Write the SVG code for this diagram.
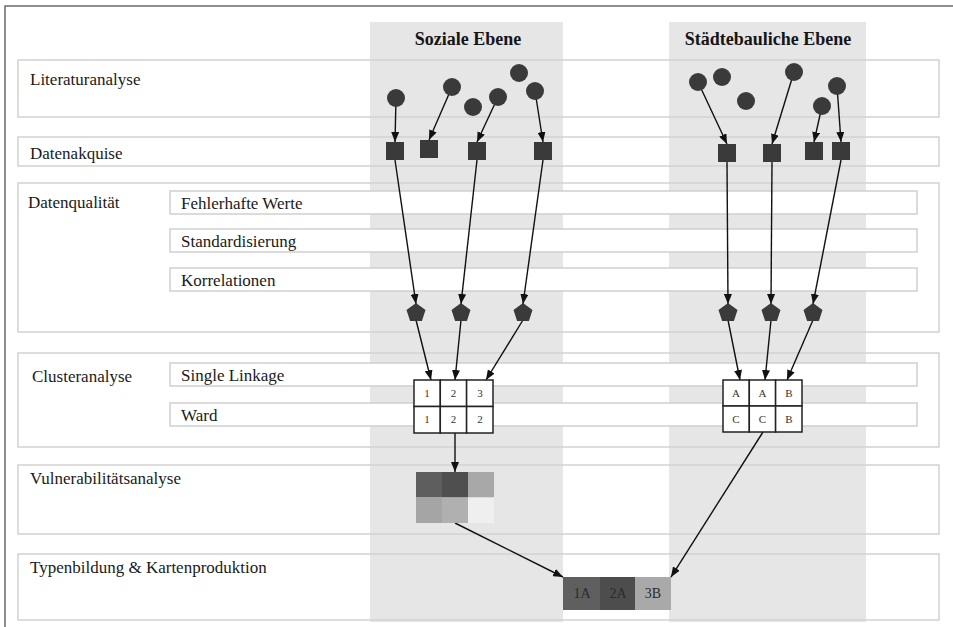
<svg xmlns="http://www.w3.org/2000/svg" width="953" height="627" viewBox="0 0 953 627">
  <style>
    .col { fill: #e6e6e6; }
    .row { fill: none; stroke: #d2d2d2; stroke-width: 1.5; }
    .sub { fill: #ffffff; stroke: #cfcfcf; stroke-width: 1.5; }
    .lbl { font-family: "Liberation Serif", "Times New Roman", serif; font-size: 17px; fill: #1a1a1a; }
    .hdr { font-family: "Liberation Serif", "Times New Roman", serif; font-size: 18px; font-weight: bold; fill: #151515; text-anchor: middle; }
    .node { fill: #3a3a3a; }
    .cell { fill: #ffffff; stroke: #222222; stroke-width: 1.5; }
    .ct { font-family: "Liberation Serif", "Times New Roman", serif; font-size: 11px; fill: #333333; text-anchor: middle; }
    .bt { font-family: "Liberation Serif", "Times New Roman", serif; font-size: 14px; fill: #2a2a2a; text-anchor: middle; }
    .edge { fill: none; stroke: #111111; stroke-width: 1.4; marker-end: url(#arrow); }
  </style>
  <defs>
    <marker id="arrow" markerUnits="userSpaceOnUse" markerWidth="10" markerHeight="8" refX="10" refY="4" orient="auto">
      <path d="M0,0 L10,4 L0,8 z" fill="#111111"/>
    </marker>
    <polygon id="pent" points="0,-10 9.5,-3.1 5.9,8.1 -5.9,8.1 -9.5,-3.1"/>
  </defs>

  <rect width="953" height="627" fill="#ffffff"/>
  <!-- outer frame -->
  <path d="M5,627 L5,6 L953,6" fill="none" stroke="#6a6a6a" stroke-width="1.5"/>

  <!-- column backgrounds -->
  <rect class="col" x="370" y="22" width="193" height="600"/>
  <rect class="col" x="669" y="22" width="197" height="600"/>
  <text class="hdr" x="468" y="45">Soziale Ebene</text>
  <text class="hdr" x="768" y="45">Städtebauliche Ebene</text>

  <!-- process rows -->
  <g id="row-literatur">
    <rect class="row" x="18" y="60" width="921" height="57"/>
    <text class="lbl" x="30" y="85">Literaturanalyse</text>
  </g>
  <g id="row-datenakquise">
    <rect class="row" x="18" y="137" width="921" height="29"/>
    <text class="lbl" x="30" y="159">Datenakquise</text>
  </g>
  <g id="row-datenqualitaet">
    <rect class="row" x="18" y="183" width="921" height="149"/>
    <text class="lbl" x="28" y="208">Datenqualität</text>
    <rect class="sub" x="170" y="191" width="747" height="23"/>
    <text class="lbl" x="181" y="209">Fehlerhafte  Werte</text>
    <rect class="sub" x="170" y="229" width="747" height="23"/>
    <text class="lbl" x="181" y="247">Standardisierung</text>
    <rect class="sub" x="170" y="268" width="747" height="23"/>
    <text class="lbl" x="181" y="286">Korrelationen</text>
  </g>
  <g id="row-cluster">
    <rect class="row" x="18" y="353" width="921" height="94"/>
    <text class="lbl" x="32" y="382">Clusteranalyse</text>
    <rect class="sub" x="170" y="363" width="747" height="23"/>
    <text class="lbl" x="181" y="381">Single Linkage</text>
    <rect class="sub" x="170" y="403" width="747" height="23"/>
    <text class="lbl" x="181" y="421">Ward</text>
  </g>
  <g id="row-vulnerabilitaet">
    <rect class="row" x="18" y="465" width="921" height="69"/>
    <text class="lbl" x="30" y="484">Vulnerabilitätsanalyse</text>
  </g>
  <g id="row-typen">
    <rect class="row" x="18" y="554" width="921" height="66"/>
    <text class="lbl" x="30" y="573">Typenbildung  &amp; Kartenproduktion</text>
  </g>

  <!-- connectors -->
  <g id="connectors">
    <line class="edge" x1="396" y1="98" x2="395" y2="142"/>
    <line class="edge" x1="452" y1="87" x2="429" y2="140"/>
    <line class="edge" x1="498" y1="97" x2="477" y2="142"/>
    <line class="edge" x1="535" y1="91" x2="543" y2="142"/>
    <line class="edge" x1="698" y1="82" x2="727" y2="144"/>
    <line class="edge" x1="794" y1="72" x2="772" y2="144"/>
    <line class="edge" x1="822" y1="106" x2="814" y2="142"/>
    <line class="edge" x1="837" y1="86" x2="841" y2="142"/>

    <line class="edge" x1="395" y1="160" x2="416" y2="304"/>
    <line class="edge" x1="477" y1="160" x2="461" y2="304"/>
    <line class="edge" x1="543" y1="160" x2="523" y2="304"/>
    <line class="edge" x1="727" y1="162" x2="728" y2="304"/>
    <line class="edge" x1="772" y1="162" x2="771" y2="304"/>
    <line class="edge" x1="841" y1="160" x2="813" y2="304"/>

    <line class="edge" x1="416" y1="320" x2="431" y2="380"/>
    <line class="edge" x1="461" y1="320" x2="455" y2="380"/>
    <line class="edge" x1="523" y1="320" x2="486" y2="380"/>
    <line class="edge" x1="728" y1="320" x2="740" y2="380"/>
    <line class="edge" x1="771" y1="320" x2="765" y2="380"/>
    <line class="edge" x1="813" y1="320" x2="787" y2="380"/>

    <line class="edge" x1="455" y1="433" x2="455" y2="472"/>
    <line class="edge" x1="455" y1="523" x2="563" y2="577"/>
    <line class="edge" x1="763" y1="432" x2="671" y2="577"/>
  </g>

  <!-- literature sources -->
  <g id="lit-social">
    <circle class="node" cx="396" cy="98" r="9"/>
    <circle class="node" cx="452" cy="87" r="9"/>
    <circle class="node" cx="473" cy="107" r="9"/>
    <circle class="node" cx="498" cy="97" r="9"/>
    <circle class="node" cx="519" cy="73" r="9"/>
    <circle class="node" cx="535" cy="91" r="9"/>
  </g>
  <g id="lit-urban">
    <circle class="node" cx="698" cy="82" r="9"/>
    <circle class="node" cx="722" cy="77" r="9"/>
    <circle class="node" cx="746" cy="101" r="9"/>
    <circle class="node" cx="794" cy="72" r="9"/>
    <circle class="node" cx="822" cy="106" r="9"/>
    <circle class="node" cx="837" cy="86" r="9"/>
  </g>

  <!-- acquired data sets -->
  <g id="data-social">
    <rect class="node" x="386" y="142" width="18" height="18"/>
    <rect class="node" x="420" y="140" width="18" height="18"/>
    <rect class="node" x="468" y="142" width="18" height="18"/>
    <rect class="node" x="534" y="142" width="18" height="18"/>
  </g>
  <g id="data-urban">
    <rect class="node" x="718" y="144" width="18" height="18"/>
    <rect class="node" x="763" y="144" width="18" height="18"/>
    <rect class="node" x="805" y="142" width="18" height="18"/>
    <rect class="node" x="832" y="142" width="18" height="18"/>
  </g>

  <!-- quality-checked variables -->
  <g id="vars-social">
    <use href="#pent" class="node" x="416" y="313"/>
    <use href="#pent" class="node" x="461" y="313"/>
    <use href="#pent" class="node" x="523" y="313"/>
  </g>
  <g id="vars-urban">
    <use href="#pent" class="node" x="728" y="313"/>
    <use href="#pent" class="node" x="771" y="313"/>
    <use href="#pent" class="node" x="813" y="313"/>
  </g>

  <!-- cluster tables -->
  <g id="cluster-social">
    <rect class="cell" x="414" y="380" width="26.3" height="26.5"/>
    <rect class="cell" x="440.3" y="380" width="26.3" height="26.5"/>
    <rect class="cell" x="466.6" y="380" width="26.4" height="26.5"/>
    <rect class="cell" x="414" y="406.5" width="26.3" height="26.5"/>
    <rect class="cell" x="440.3" y="406.5" width="26.3" height="26.5"/>
    <rect class="cell" x="466.6" y="406.5" width="26.4" height="26.5"/>
    <text class="ct" x="427" y="397">1</text>
    <text class="ct" x="453.5" y="397">2</text>
    <text class="ct" x="480" y="397">3</text>
    <text class="ct" x="427" y="423">1</text>
    <text class="ct" x="453.5" y="423">2</text>
    <text class="ct" x="480" y="423">2</text>
  </g>
  <g id="cluster-urban">
    <rect class="cell" x="723" y="380" width="26.3" height="26"/>
    <rect class="cell" x="749.3" y="380" width="26.3" height="26"/>
    <rect class="cell" x="775.6" y="380" width="26.4" height="26"/>
    <rect class="cell" x="723" y="406" width="26.3" height="26"/>
    <rect class="cell" x="749.3" y="406" width="26.3" height="26"/>
    <rect class="cell" x="775.6" y="406" width="26.4" height="26"/>
    <text class="ct" x="736" y="397">A</text>
    <text class="ct" x="762.5" y="397">A</text>
    <text class="ct" x="789" y="397">B</text>
    <text class="ct" x="736" y="423">C</text>
    <text class="ct" x="762.5" y="423">C</text>
    <text class="ct" x="789" y="423">B</text>
  </g>

  <!-- vulnerability matrix -->
  <g id="vulnerability">
    <rect x="416" y="472" width="26" height="25.5" fill="#5e5e5e"/>
    <rect x="442" y="472" width="26" height="25.5" fill="#4f4f4f"/>
    <rect x="468" y="472" width="26" height="25.5" fill="#a8a8a8"/>
    <rect x="416" y="497.5" width="26" height="25.5" fill="#a5a5a5"/>
    <rect x="442" y="497.5" width="26" height="25.5" fill="#b0b0b0"/>
    <rect x="468" y="497.5" width="26" height="25.5" fill="#efefef"/>
  </g>

  <!-- resulting types -->
  <g id="types">
    <rect x="563" y="577" width="37" height="33" fill="#5f5f5f"/>
    <rect x="600" y="577" width="35" height="33" fill="#4d4d4d"/>
    <rect x="635" y="577" width="36" height="33" fill="#a9a9a9"/>
    <text class="bt" x="582" y="598">1A</text>
    <text class="bt" x="618" y="598">2A</text>
    <text class="bt" x="653" y="598">3B</text>
  </g>
</svg>
